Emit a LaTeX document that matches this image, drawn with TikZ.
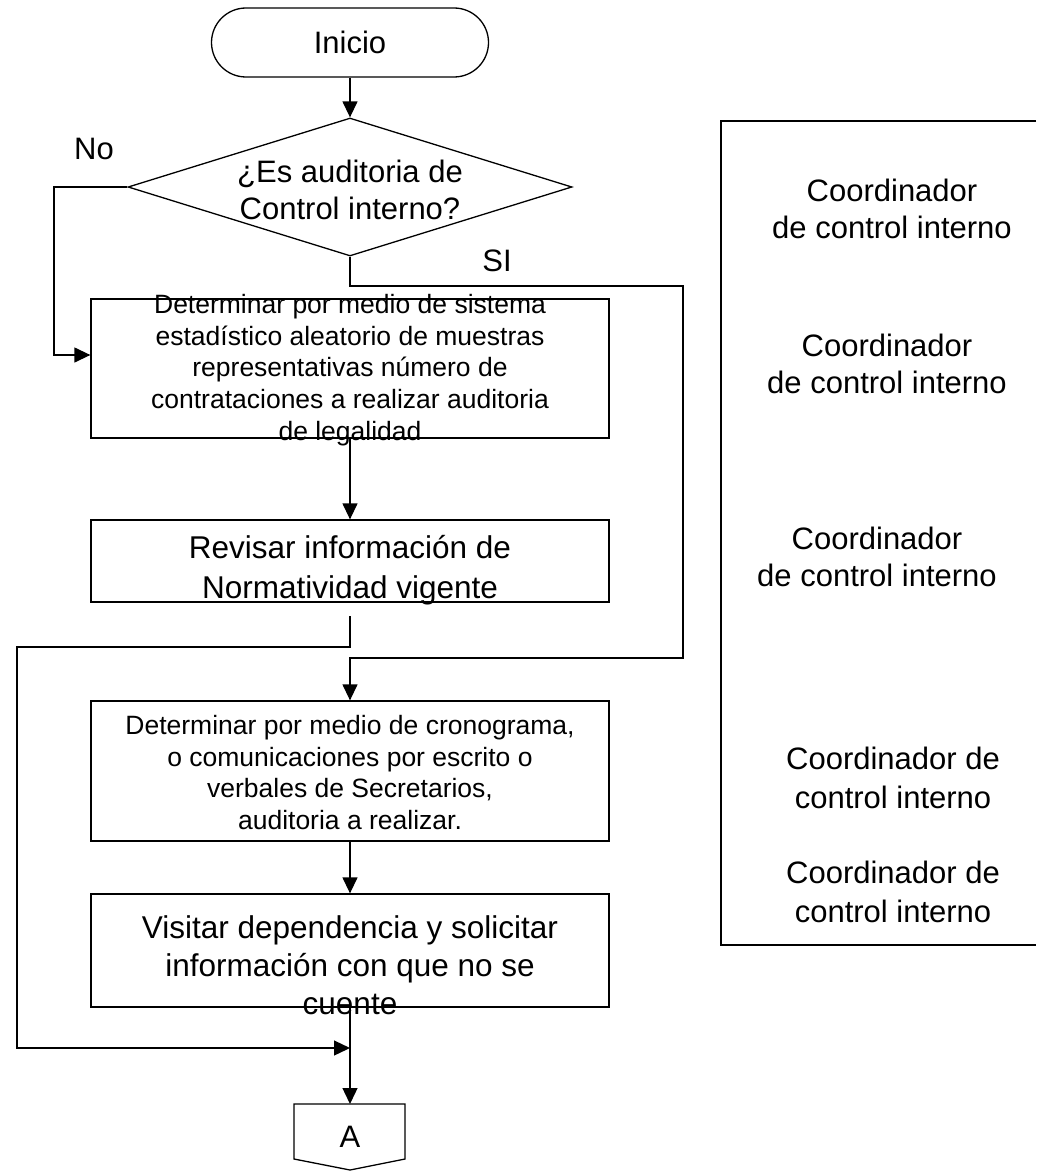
\documentclass[tikz,border=0pt]{standalone}
\usepackage{fontspec}
\setmainfont{Liberation Sans}
\usetikzlibrary{shapes.geometric,shapes.misc,arrows.meta}
\begin{document}
\begin{tikzpicture}[x=1pt,y=-1pt,
  line width=1.3pt,
  arr/.style={-{Triangle[length=16pt,width=15pt]}},
  big/.style={font=\fontsize{31}{37}\selectfont, align=center, inner sep=0pt},
  small/.style={font=\fontsize{26.5}{31.7}\selectfont, align=center, inner sep=0pt},
  procbox/.style={draw, rectangle, minimum width=518pt, minimum height=#1, inner sep=0pt},
]
\useasboundingbox (0,0) rectangle (1036,1172);

% start terminal
\node[draw, rounded rectangle, minimum width=277pt, minimum height=69pt, big] (ini) at (350,42.5) {Inicio};

% decision
\node[draw, diamond, minimum width=444pt, minimum height=138pt, inner sep=0pt] (dec) at (350,187) {};
\node[big] (dectxt) at (350,190) {¿Es auditoria de\\Control interno?};
\node[big] (no) at (94,149) {No};
\node[big] (si) at (497,261) {SI};

% process boxes
\node[procbox=139pt] (b1) at (350,368.5) {};
\node[small] (t1) at (350,370) {Determinar por medio de sistema\\estadístico aleatorio de muestras\\representativas número de\\contrataciones a realizar auditoria\\de legalidad};

\node[procbox=82pt] (b2) at (350,561) {};
\node[font=\fontsize{31.5}{40}\selectfont, align=center, inner sep=0pt] (t2) at (350,570) {Revisar información de\\Normatividad vigente};

\node[procbox=140pt] (b4) at (350,771) {};
\node[small] (t4) at (350,772.5) {Determinar por medio de cronograma,\\o comunicaciones por escrito o\\verbales de Secretarios,\\auditoria a realizar.};

\node[procbox=113pt] (b5) at (350,950.5) {};
\node[font=\fontsize{31.5}{38}\selectfont, align=center, inner sep=0pt] (t5) at (350,965) {Visitar dependencia y solicitar\\información con que no se\\cuente};

% off-page connector A
\coordinate (Atop) at (350,1104);
\draw (294,1104) -- (405,1104) -- (405,1159) -- (350,1170) -- (294,1159) -- cycle;
\node[big] (A) at (350,1137) {A};

% helper coordinates
\coordinate (nL) at (54,355);
\coordinate (sR) at (683,286);
\coordinate (sB) at (683,658);
\coordinate (r0) at (350,616);
\coordinate (rL) at (17,647);
\coordinate (j) at (350,1048);

% connectors
\draw[arr] (ini.south) -- (dec.north);
\draw[arr] (dec.west) -| (nL) -- (b1.west |- nL);
\draw[arr] (dec.south) |- (sR) -- (sB) -| (b4.north);
\draw[arr] (b1.south) -- (b2.north);
\draw[arr] (r0) |- (rL) |- (j);
\draw[arr] (b4.south) -- (b5.north);
\draw[arr] (b5.south) -- (Atop);

% right responsibility column
\draw (1036,121) -- (721,121) -- (721,945) -- (1036,945);
\node[big] (c1) at (892,208.5) {Coordinador\\de control interno};
\node[big] (c2) at (887,363.5) {Coordinador\\de control interno};
\node[big] (c3) at (877,556.5) {Coordinador\\de control interno};
\node[font=\fontsize{31}{39}\selectfont, align=center, inner sep=0pt] (c4) at (893,778) {Coordinador de\\control interno};
\node[font=\fontsize{31}{39}\selectfont, align=center, inner sep=0pt] (c5) at (893,892) {Coordinador de\\control interno};
\end{tikzpicture}
\end{document}
